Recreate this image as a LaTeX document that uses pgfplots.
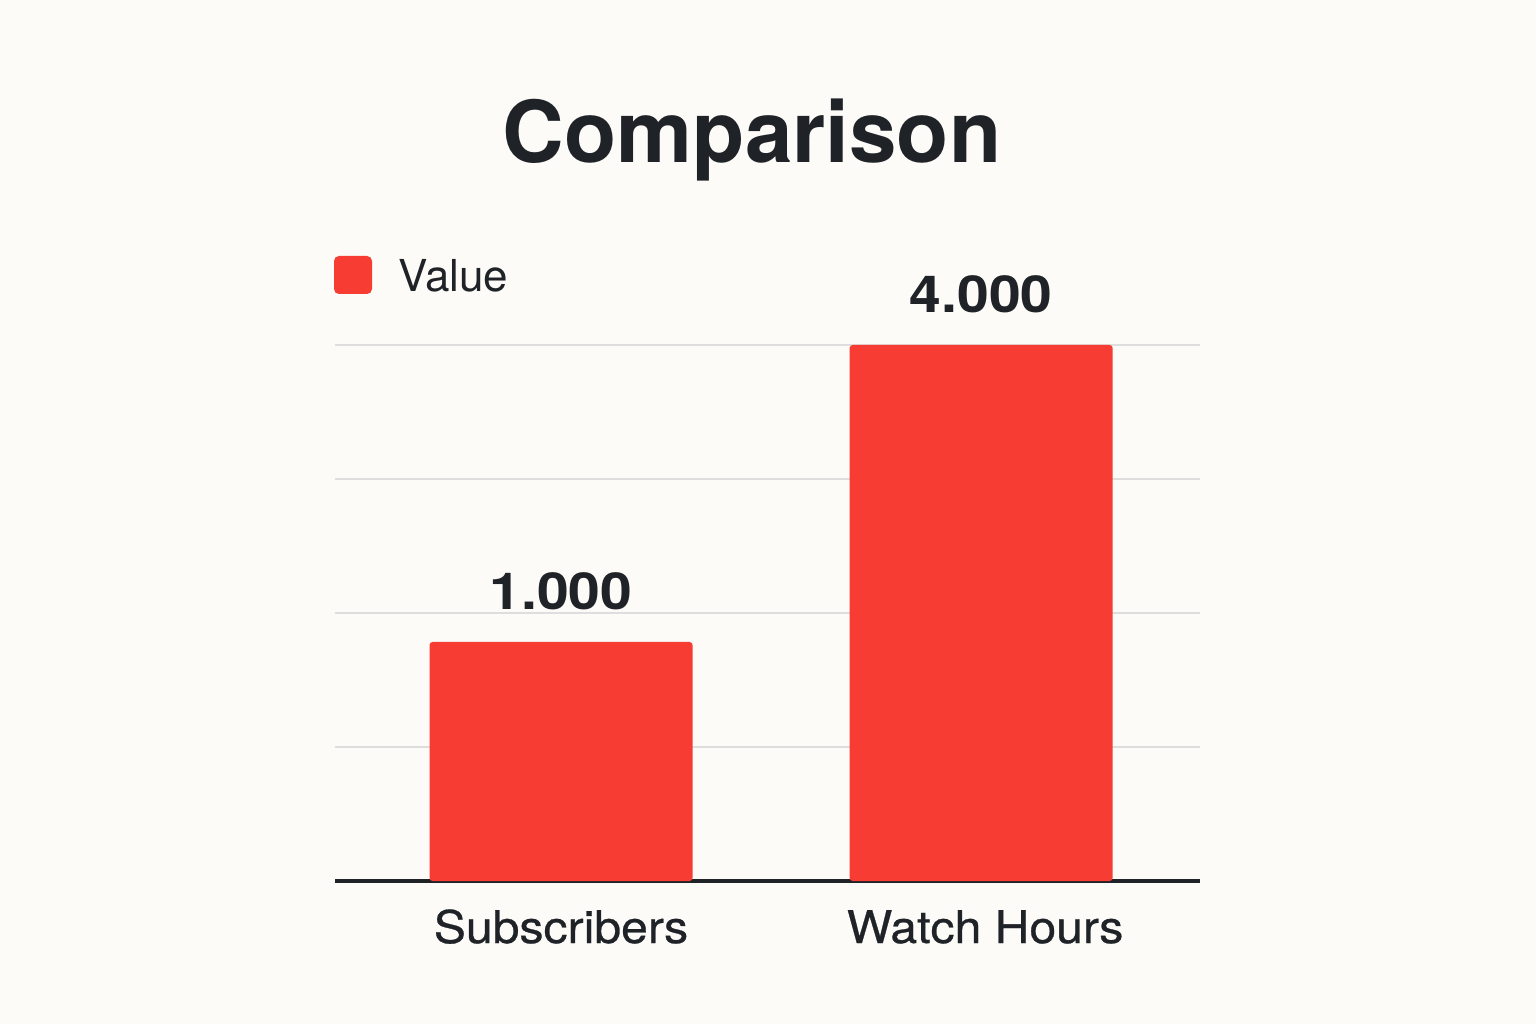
\documentclass[border=0pt]{standalone}
\usepackage{fontspec}
\setmainfont{TeX Gyre Heros}
\newfontfamily\wideheros[FakeStretch=1.07,FakeBold=0.6]{TeX Gyre Heros}
\newfontfamily\valfont[FakeStretch=1.12]{TeX Gyre Heros}
\usepackage{pgfplots}
\pgfplotsset{compat=1.18}
\definecolor{bg}{HTML}{FCFBF7}
\definecolor{barred}{HTML}{F73D33}
\definecolor{txt}{HTML}{1F2328}
\definecolor{gridc}{HTML}{DEDEDE}
\begin{document}
\begin{tikzpicture}[x=1pt,y=1pt]
\fill[bg] (0,0) rectangle (768,512);
% title
\node[anchor=base, text=txt, font=\fontsize{42.7}{48}\selectfont\bfseries] at (376,430.5) {Comparison};
% legend
\fill[barred, rounded corners=2.5pt] (167,365) rectangle (186,384);
\node[anchor=base west, inner sep=0pt, text=txt, font=\fontsize{22}{26}\selectfont] at (199,366) {Value};
\begin{axis}[
  at={(167.5pt,71.5pt)}, anchor=south west,
  scale only axis, width=432.5pt, height=268pt,
  xmin=-0.538, xmax=1.521,
  y coord trafo/.code={\pgfmathparse{0.7388*#1+1044.8}},
  y coord inv trafo/.code={\pgfmathparse{(#1-1044.8)/0.7388}},
  ymin=-1414.2, ymax=4000,
  ytick={-60.6,1292.9,2646.4,4000},
  yticklabels={},
  ymajorgrids, grid style={gridc, line width=1.1pt},
  major tick length=0pt,
  axis x line*=bottom, axis y line*=left,
  y axis line style={draw=none},
  x axis line style={txt, line width=1.6pt, -},
  xtick={0,1}, xticklabels={Subscribers, \hspace*{4pt}Watch Hours},
  xticklabel style={text=txt, font=\wideheros\fontsize{22.5}{26}\selectfont, anchor=base, yshift=-31pt},
  ybar, bar width=0.626,
  clip=false,
  axis background/.style={fill=none},
  nodes near coords,
  point meta=explicit symbolic,
  every node near coord/.append style={anchor=base, yshift=16pt, text=txt, font=\valfont\fontsize{25.5}{28}\selectfont\bfseries},
]
\addplot[fill=barred, draw=none, rounded corners=1.5pt] coordinates {(0,1000) [1.000] (1,4000) [4.000]};
\end{axis}
\end{tikzpicture}
\end{document}
